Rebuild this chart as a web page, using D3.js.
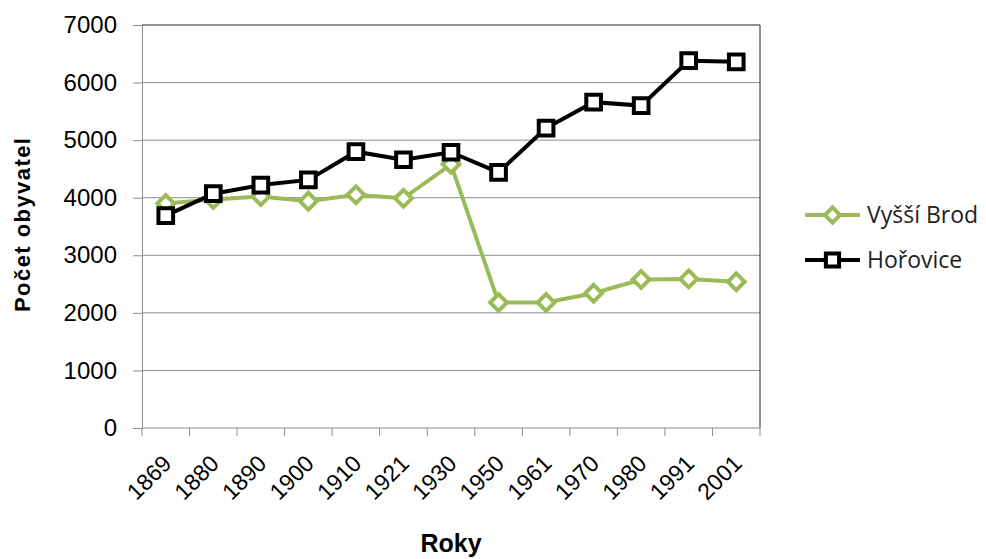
<!DOCTYPE html>
<html>
<head>
<meta charset="utf-8">
<script src="https://cdn.jsdelivr.net/npm/d3@7"></script>
<style>
  body { margin: 0; background: #fff; }
  svg { display: block; }
</style>
</head>
<body>
<div id="chart"></div>
<script>
// Data
const years = ['1869', '1880', '1890', '1900', '1910', '1921', '1930', '1950', '1961', '1970', '1980', '1991', '2001'];
const vyssiBrod = [3900, 3970, 4020, 3940, 4050, 3990, 4580, 2180, 2180, 2340, 2580, 2590, 2540];
const horovice = [3690, 4070, 4220, 4310, 4800, 4660, 4790, 4440, 5210, 5660, 5600, 6380, 6360];
const yTicks = [0, 1000, 2000, 3000, 4000, 5000, 6000, 7000];
const seriesNames = ['Vyšší Brod', 'Hořovice'];

const width = 986;
const height = 559;
const margin = { top: 25, right: 226, bottom: 131, left: 142 };
const innerW = width - margin.left - margin.right;
const innerH = height - margin.top - margin.bottom;
const axisFont = 'Liberation Sans, Arial, sans-serif';

const svg = d3.select('#chart')
  .append('svg')
  .attr('width', width)
  .attr('height', height);

const g = svg.append('g')
  .attr('transform', `translate(${margin.left},${margin.top})`);

const xScale = d3.scaleBand()
  .domain(years)
  .range([0, innerW]);

const yScale = d3.scaleLinear()
  .domain([0, 7000])
  .range([innerH, 0]);

// Gridlines
g.selectAll('.grid')
  .data(yTicks.slice(1, -1))
  .enter()
  .append('line')
  .attr('x1', 0)
  .attr('x2', innerW)
  .attr('y1', d => yScale(d))
  .attr('y2', d => yScale(d))
  .attr('stroke', '#8c8c8c')
  .attr('stroke-width', 1);

// Top and right frame (dark)
g.append('line')
  .attr('x1', 0).attr('x2', innerW)
  .attr('y1', yScale(7000)).attr('y2', yScale(7000))
  .attr('stroke', '#222').attr('stroke-width', 1);
g.append('line')
  .attr('x1', innerW).attr('x2', innerW)
  .attr('y1', 0).attr('y2', innerH)
  .attr('stroke', '#222').attr('stroke-width', 1);

// Y axis
const yAxis = d3.axisLeft(yScale)
  .tickValues(yTicks)
  .tickFormat(d3.format('d'))
  .tickSize(9)
  .tickPadding(16);
const yG = g.append('g').call(yAxis);
yG.select('.domain').attr('stroke', '#8c8c8c');
yG.selectAll('.tick line').attr('stroke', '#8c8c8c');
yG.selectAll('text')
  .style('font-family', axisFont)
  .style('font-size', '24px')
  .attr('fill', '#000');

// X axis: ticks sit between categories
const xG = g.append('g')
  .attr('transform', `translate(0,${innerH})`);
xG.append('line')
  .attr('x1', 0).attr('x2', innerW)
  .attr('stroke', '#8c8c8c');
const boundaries = years.map(d => xScale(d)).concat([innerW]);
xG.selectAll('.xtick')
  .data(boundaries)
  .enter()
  .append('line')
  .attr('x1', d => d).attr('x2', d => d)
  .attr('y1', 0).attr('y2', 8)
  .attr('stroke', '#8c8c8c');
xG.selectAll('.xlabel')
  .data(years)
  .enter()
  .append('text')
  .attr('transform', d => `translate(${xScale(d) + xScale.bandwidth() / 2 + 7},${37}) rotate(-45)`)
  .attr('text-anchor', 'end')
  .style('font-family', axisFont)
  .style('font-size', '23px')
  .attr('fill', '#000')
  .text(d => d);

// Axis titles
svg.append('text')
  .attr('transform', `translate(22,225) rotate(-90)`)
  .attr('text-anchor', 'middle')
  .attr('dy', '0.35em')
  .attr('textLength', 174)
  .style('font-family', axisFont)
  .style('font-size', '22px')
  .style('font-weight', 'bold')
  .text('Počet obyvatel');

svg.append('text')
  .attr('x', 451)
  .attr('y', 552)
  .attr('text-anchor', 'middle')
  .style('font-family', axisFont)
  .style('font-size', '25px')
  .style('font-weight', 'bold')
  .text('Roky');

const cx = d => xScale(d) + xScale.bandwidth() / 2;
const line = d3.line()
  .x((d, i) => cx(years[i]))
  .y(d => yScale(d));

const green = '#9bbb59';
const diamond = d3.symbol().type(d3.symbolDiamond2).size(180);
const square = d3.symbol().type(d3.symbolSquare).size(215);

// Vyšší Brod
g.append('path')
  .datum(vyssiBrod)
  .attr('d', line)
  .attr('fill', 'none')
  .attr('stroke', green)
  .attr('stroke-width', 4);
g.selectAll('.vb')
  .data(vyssiBrod)
  .enter()
  .append('path')
  .attr('d', diamond)
  .attr('transform', (d, i) => `translate(${cx(years[i])},${yScale(d)})`)
  .attr('fill', '#fff')
  .attr('stroke', green)
  .attr('stroke-width', 4);

// Hořovice
g.append('path')
  .datum(horovice)
  .attr('d', line)
  .attr('fill', 'none')
  .attr('stroke', '#000')
  .attr('stroke-width', 4);
g.selectAll('.ho')
  .data(horovice)
  .enter()
  .append('path')
  .attr('d', square)
  .attr('transform', (d, i) => `translate(${cx(years[i])},${yScale(d)})`)
  .attr('fill', '#fff')
  .attr('stroke', '#000')
  .attr('stroke-width', 4);

// Legend
const legend = svg.append('g').attr('transform', 'translate(805,215)');
const legendItems = [
  { name: seriesNames[0], color: green, shape: diamond },
  { name: seriesNames[1], color: '#000', shape: square }
];
legendItems.forEach((item, i) => {
  const row = legend.append('g').attr('transform', `translate(0,${i * 45})`);
  row.append('line')
    .attr('x1', 0).attr('x2', 55)
    .attr('stroke', item.color)
    .attr('stroke-width', 4);
  row.append('path')
    .attr('d', item.shape)
    .attr('transform', 'translate(27.5,0) scale(0.9)')
    .attr('fill', '#fff')
    .attr('stroke', item.color)
    .attr('stroke-width', 4.5);
  row.append('text')
    .attr('x', 62)
    .attr('dy', '0.35em')
    .style('font-family', 'Open Sans, sans-serif')
    .style('font-size', '23px')
    .attr('fill', '#222')
    .text(item.name);
});
</script>
</body>
</html>
